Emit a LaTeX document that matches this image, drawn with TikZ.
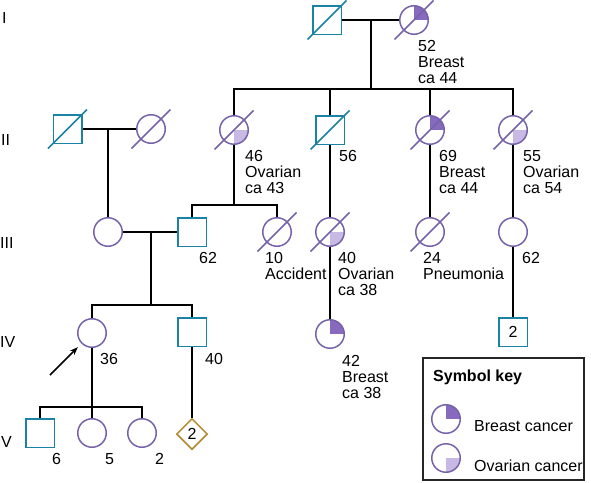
\documentclass[tikz,border=0pt]{standalone}
\usepackage{fontspec}
\setmainfont{Liberation Sans}
\usetikzlibrary{shapes.geometric,arrows.meta}
\definecolor{femc}{RGB}{118,98,170}
\definecolor{malc}{RGB}{25,130,165}
\definecolor{brc}{RGB}{135,105,190}
\definecolor{ovc}{RGB}{200,185,228}
\definecolor{diac}{RGB}{180,135,40}
\begin{document}
\begin{tikzpicture}[x=1pt,y=-1pt,font=\fontsize{16}{16}\selectfont,
  fem/.style={circle,draw=femc,line width=1.5pt,minimum size=28.5pt,inner sep=0pt},
  mal/.style={rectangle,draw=malc,line width=1.5pt,minimum size=28.5pt,inner sep=0pt},
  dia/.style={diamond,draw=diac,line width=1.5pt,minimum size=31pt,inner sep=0pt},
  brs/.style={path picture={\fill[brc] (path picture bounding box.center) rectangle (path picture bounding box.north east);}},
  ova/.style={path picture={\fill[ovc] (path picture bounding box.center) rectangle (path picture bounding box.south east);}},
  lbl/.style={anchor=base west,align=left,inner sep=0pt},
  link/.style={line width=1.5pt,black},
  deadf/.style={draw=femc,line width=1.5pt},
  deadm/.style={draw=malc,line width=1.5pt}]
\useasboundingbox (0,0) rectangle (591,482);

% generation labels
\node[lbl] (gI) at (2,23.5) {I};
\node[lbl] (gII) at (1,145.5) {II};
\node[lbl] (gIII) at (0,248.5) {III};
\node[lbl] (gIV) at (0,347.5) {IV};
\node[lbl] (gV) at (1,447.5) {V};

% generation I
\node[mal] (I1) at (327,20) {};
\node[fem,brs] (I2) at (414,20) {};
\coordinate (cI) at (371,20);
\coordinate (sII) at (371,89);

% generation II
\node[mal] (II1) at (67.5,129) {};
\node[fem] (II2) at (151,129) {};
\coordinate (cII) at (108,129);
\node[fem,ova] (II3) at (234,130) {};
\node[mal] (II4) at (330,130) {};
\node[fem,brs] (II5) at (430,130) {};
\node[fem,ova] (II6) at (513,130) {};
\coordinate (sIII) at (234,205);

% generation III
\node[fem] (III1) at (108,232) {};
\node[mal] (III2) at (192,232) {};
\coordinate (cIII) at (151,232);
\node[fem] (III3) at (277,232) {};
\node[fem,ova] (III4) at (330,232) {};
\node[fem] (III5) at (430,232) {};
\node[fem] (III6) at (513,232) {};
\coordinate (sIV) at (151,305);

% generation IV
\node[fem] (IV1) at (92,333) {};
\node[mal] (IV2) at (192,332) {};
\node[fem,brs] (IV3) at (330,334) {};
\node[mal] (IV4) at (513,332) {2};
\coordinate (sV) at (92,407);
\coordinate (arrS) at (50,375);

% generation V
\node[mal] (V1) at (40,433) {};
\node[fem] (V2) at (92,433) {};
\node[fem] (V3) at (142,433) {};
\node[dia] (V4) at (192,434) {2};

% deceased marks
\foreach \n in {I1,II1,II4}
  \draw[deadm] ([shift={(-19.5,19.5)}]\n.center) -- ([shift={(19.5,-19.5)}]\n.center);
\foreach \n in {I2,II2,II3,II5,II6,III3,III4,III5}
  \draw[deadf] ([shift={(-19.5,19.5)}]\n.center) -- ([shift={(19.5,-19.5)}]\n.center);

% connectors
\draw[link] (I1) -- (I2);
\draw[link] (cI) -- (sII);
\draw[link] (II3) -- (II3 |- sII) -- (II6 |- sII) -- (II6);
\draw[link] (II4) -- (II4 |- sII);
\draw[link] (II5) -- (II5 |- sII);
\draw[link] (II1) -- (II2);
\draw[link] (cII) -- (III1);
\draw[link] (II3) -- (sIII);
\draw[link] (III2) -- (III2 |- sIII) -- (III3 |- sIII) -- (III3);
\draw[link] (II4) -- (III4);
\draw[link] (II5) -- (III5);
\draw[link] (II6) -- (III6);
\draw[link] (III1) -- (III2);
\draw[link] (cIII) -- (sIV);
\draw[link] (IV1) -- (IV1 |- sIV) -- (IV2 |- sIV) -- (IV2);
\draw[link] (III4) -- (IV3);
\draw[link] (III6) -- (IV4);
\draw[link] (IV1) -- (sV);
\draw[link] (V1) -- (V1 |- sV) -- (V3 |- sV) -- (V3);
\draw[link] (sV) -- (V2);
\draw[link] (IV2) -- (V4);
\draw[link,-{Stealth[length=8pt,width=6pt]},shorten >=5pt] (arrS) -- (IV1);

% labels (base = baseline of last line)
\node[lbl] (tI2) at (418,83) {52\\Breast\\ca 44};
\node[lbl] (tII3) at (245,193) {46\\Ovarian\\ca 43};
\node[lbl] (tII4) at (339,161) {56};
\node[lbl] (tII5) at (439,193) {69\\Breast\\ca 44};
\node[lbl] (tII6) at (523,193) {55\\Ovarian\\ca 54};
\node[lbl] (tIII2) at (199,263) {62};
\node[lbl] (tIII3) at (265,279) {10\\Accident};
\node[lbl] (tIII4) at (338,295) {40\\Ovarian\\ca 38};
\node[lbl] (tIII5) at (423,279) {24\\Pneumonia};
\node[lbl] (tIII6) at (522,263) {62};
\node[lbl] (tIV1) at (100,364) {36};
\node[lbl] (tIV2) at (205,364) {40};
\node[lbl] (tIV3) at (342,398) {42\\Breast\\ca 38};
\node[lbl] (tV1) at (52,464) {6};
\node[lbl] (tV2) at (105,464) {5};
\node[lbl] (tV3) at (155,464) {2};

% symbol key
\draw[line width=1.1pt,black!85] (423,358) rectangle (584,480);
\node[lbl,font=\fontsize{16}{16}\selectfont\bfseries] (kT) at (433,381) {Symbol key};
\node[fem,brs] (kB) at (446,419) {};
\node[fem,ova] (kO) at (446,458) {};
\node[lbl] (kBt) at (474,431) {Breast cancer};
\node[lbl] (kOt) at (474,471) {Ovarian cancer};
\end{tikzpicture}
\end{document}
